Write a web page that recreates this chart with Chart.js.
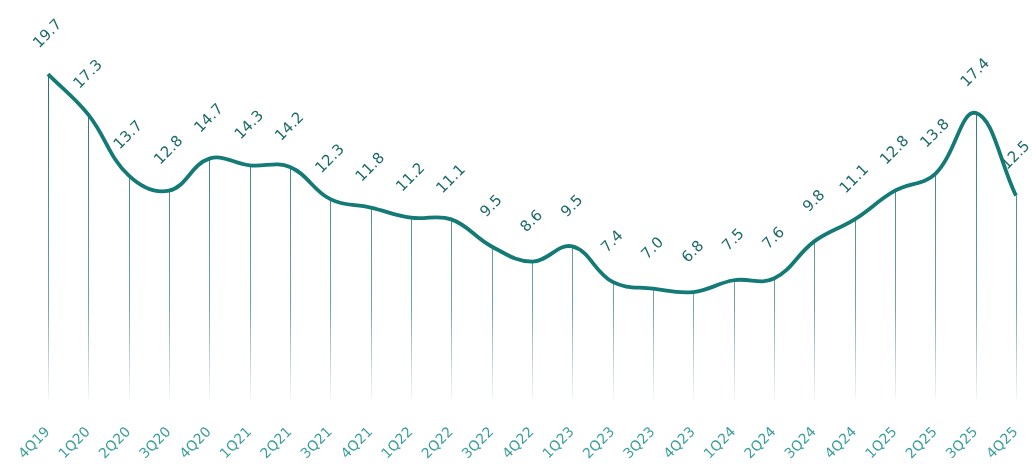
<!DOCTYPE html>
<html>
<head>
<meta charset="utf-8">
<script src="https://cdn.jsdelivr.net/npm/chart.js@4"></script>
<style>
  html, body { margin: 0; padding: 0; background: #fff; }
  #wrap { width: 1033px; height: 464px; }
</style>
</head>
<body>
<div id="wrap"><canvas id="chart"></canvas></div>
<script>
var quarters = ['4Q19','1Q20','2Q20','3Q20','4Q20','1Q21','2Q21','3Q21','4Q21','1Q22','2Q22','3Q22','4Q22',
                '1Q23','2Q23','3Q23','4Q23','1Q24','2Q24','3Q24','4Q24','1Q25','2Q25','3Q25','4Q25'];
var values = [19.7, 17.3, 13.7, 12.8, 14.7, 14.3, 14.2, 12.3, 11.8, 11.2, 11.1, 9.5, 8.6,
              9.5, 7.4, 7.0, 6.8, 7.5, 7.6, 9.8, 11.1, 12.8, 13.8, 17.4, 12.5];

var lineColor = '#137a75';
var labelColor = '#1d6b68';
var tickColor = '#3a9f9b';
var angle = -45 * Math.PI / 180;

// thin vertical lines from each point down, fading out
var dropLines = {
  id: 'dropLines',
  beforeDatasetsDraw: function(chart) {
    var ctx = chart.ctx, area = chart.chartArea;
    var meta = chart.getDatasetMeta(0);
    var grad = ctx.createLinearGradient(0, area.top, 0, area.bottom);
    grad.addColorStop(0, 'rgba(25,105,102,0.95)');
    grad.addColorStop(0.7, 'rgba(25,105,102,0.6)');
    grad.addColorStop(1, 'rgba(25,105,102,0)');
    ctx.save();
    ctx.strokeStyle = grad;
    ctx.lineWidth = 1;
    meta.data.forEach(function(pt) {
      var x = Math.round(pt.x) + 0.5;
      ctx.beginPath();
      ctx.moveTo(x, pt.y);
      ctx.lineTo(x, area.bottom - 8);
      ctx.stroke();
    });
    ctx.restore();
  }
};

// rotated value labels above the points
var valueLabels = {
  id: 'valueLabels',
  afterDatasetsDraw: function(chart) {
    var ctx = chart.ctx;
    var meta = chart.getDatasetMeta(0);
    ctx.save();
    ctx.fillStyle = labelColor;
    ctx.font = '15px "DejaVu Sans"';
    ctx.textAlign = 'center';
    ctx.textBaseline = 'middle';
    meta.data.forEach(function(pt, i) {
      ctx.save();
      ctx.translate(pt.x, pt.y - 40);
      ctx.rotate(angle);
      ctx.fillText(values[i].toFixed(1), 0, 0);
      ctx.restore();
    });
    ctx.restore();
  }
};

new Chart(document.getElementById('chart'), {
  type: 'line',
  data: {
    labels: quarters,
    datasets: [{
      data: values,
      borderColor: lineColor,
      borderWidth: 3.8,
      tension: 0.4,
      pointRadius: 0,
      fill: false
    }]
  },
  options: {
    responsive: true,
    maintainAspectRatio: false,
    animation: false,
    layout: { padding: { left: 48, right: 17, top: 69, bottom: 0 } },
    plugins: { legend: { display: false }, tooltip: { enabled: false } },
    scales: {
      x: {
        grid: { display: false },
        border: { display: false },
        ticks: {
          color: tickColor,
          font: { family: 'DejaVu Sans', size: 14 },
          minRotation: 45,
          maxRotation: 45,
          autoSkip: false,
          padding: 9
        },
        afterFit: function(scale) {
          scale.paddingLeft = 0;
          scale.paddingRight = 0;
          scale.height = 57;
        }
      },
      y: {
        display: false,
        min: 0,
        max: 20
      }
    }
  },
  plugins: [dropLines, valueLabels]
});
</script>
</body>
</html>
